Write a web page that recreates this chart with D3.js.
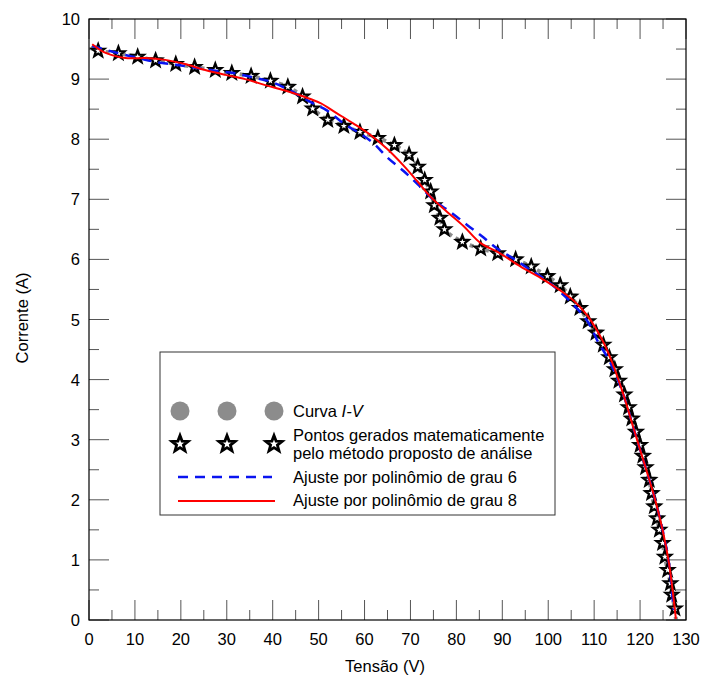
<!DOCTYPE html>
<html lang="pt">
<head>
<meta charset="utf-8">
<title>Curva I-V</title>
<script src="https://d3js.org/d3.v7.min.js"></script>
<style>
  body { margin: 0; background: #fff; }
  text { font-family: "Liberation Sans", Arial, sans-serif; font-size: 16.5px; fill: #000; }
</style>
</head>
<body>
<script>
// Pontos gerados (estrelas)
const starV = [2.0, 6.4, 10.6, 14.5, 18.9, 23.0, 27.5, 31.1, 35.3, 39.5, 43.3, 46.5, 48.7, 52.0, 55.5, 59.0, 62.9, 66.5, 69.7, 71.6,
  73.1, 74.4, 75.2, 76.4, 77.4, 81.3, 85.3, 89.0, 92.9, 96.3, 99.8, 102.6, 104.8, 106.9, 108.7, 110.4, 112.0, 113.3, 114.5, 115.4,
  116.6, 117.5, 118.2, 119.1, 120.0, 120.6, 121.2, 122.0, 122.5, 123.1, 123.7, 124.2, 124.9, 125.4, 126.0, 126.6, 126.9, 127.6];
const starI = [9.47, 9.43, 9.37, 9.31, 9.25, 9.20, 9.15, 9.10, 9.05, 8.97, 8.87, 8.71, 8.51, 8.32, 8.22, 8.12, 8.02, 7.90, 7.74, 7.54,
  7.32, 7.13, 6.90, 6.69, 6.50, 6.29, 6.18, 6.10, 6.00, 5.88, 5.72, 5.57, 5.38, 5.19, 4.97, 4.78, 4.58, 4.37, 4.17, 3.98,
  3.75, 3.54, 3.35, 3.13, 2.91, 2.73, 2.54, 2.33, 2.11, 1.89, 1.69, 1.50, 1.28, 1.05, 0.83, 0.61, 0.42, 0.19];

// Curva I-V (cinza pontilhada)
const ivV = [0.3, 2.0, 6.4, 10.6, 14.5, 18.9, 23.0, 27.5, 31.1, 35.3, 39.5, 43.3, 46.5, 48.7, 52.0, 55.5, 59.0, 62.9, 66.5, 69.7, 71.6,
  73.1, 74.4, 75.2, 76.4, 77.4, 81.3, 85.3, 89.0, 92.9, 96.3, 99.8, 102.6, 104.8, 106.9, 108.7, 110.4, 112.0, 113.3, 114.5, 115.4,
  116.6, 117.5, 118.2, 119.1, 120.0, 120.6, 121.2, 122.0, 122.5, 123.1, 123.7, 124.2, 124.9, 125.4, 126.0, 126.6, 126.9, 127.6, 127.8];
const ivI = [9.52, 9.47, 9.43, 9.37, 9.31, 9.25, 9.20, 9.15, 9.10, 9.05, 8.97, 8.87, 8.71, 8.51, 8.32, 8.22, 8.12, 8.02, 7.90, 7.74, 7.54,
  7.32, 7.13, 6.90, 6.69, 6.50, 6.29, 6.18, 6.10, 6.00, 5.88, 5.72, 5.57, 5.38, 5.19, 4.97, 4.78, 4.58, 4.37, 4.17, 3.98,
  3.75, 3.54, 3.35, 3.13, 2.91, 2.73, 2.54, 2.33, 2.11, 1.89, 1.69, 1.50, 1.28, 1.05, 0.83, 0.61, 0.42, 0.19, 0.0];

// Ajuste grau 6 (azul)
const blueV = [0.7, 6.4, 10.8, 14.8, 18.8, 23.1, 27.5, 31.5, 35.5, 39.5, 43.8, 48.2, 51.8, 55.5, 59.1, 62.0, 64.9, 68.5, 72.0, 75.5,
  78.7, 82.4, 85.5, 88.9, 92.5, 96.2, 99.8, 103.0, 106.3, 108.9, 110.7, 113.6, 116.5, 118.7, 120.9, 123.1, 124.9, 126.3, 127.3];
const blueI = [9.55, 9.43, 9.35, 9.28, 9.24, 9.19, 9.14, 9.10, 9.03, 8.96, 8.81, 8.62, 8.48, 8.26, 8.09, 7.93, 7.70, 7.47, 7.22, 6.96,
  6.79, 6.57, 6.39, 6.18, 6.01, 5.82, 5.64, 5.43, 5.18, 4.93, 4.65, 4.27, 3.72, 3.16, 2.61, 2.05, 1.50, 0.94, 0.17];

// Ajuste grau 8 (vermelho)
const redV = [0.7, 3.5, 7.9, 12.2, 16.6, 20.9, 25.3, 29.7, 34.0, 38.4, 42.7, 46.7, 50.4, 54.0, 57.6, 61.3, 64.9, 68.5, 71.5, 74.4,
  78.0, 81.6, 85.3, 89.3, 94.0, 98.4, 102.7, 105.6, 108.5, 110.7, 112.4, 114.0, 116.5, 118.7, 120.9, 123.1, 124.9, 126.3, 127.8];
const redI = [9.58, 9.44, 9.35, 9.35, 9.32, 9.25, 9.15, 9.07, 9.00, 8.90, 8.81, 8.71, 8.60, 8.43, 8.26, 8.07, 7.84, 7.56, 7.30, 7.04,
  6.79, 6.55, 6.27, 6.11, 5.88, 5.69, 5.48, 5.31, 5.07, 4.81, 4.56, 4.27, 3.72, 3.16, 2.61, 2.05, 1.50, 0.94, 0.02];

const xMajor = d3.range(0, 131, 10), xMinor = d3.range(5, 130, 10);
const yMajor = d3.range(0, 11, 1), yMinor = d3.range(0.5, 10, 1);

const W = 702, H = 687;
const pl = 89, pr = 686, pt = 19, pb = 620;

const svg = d3.select("body").append("svg").attr("width", W).attr("height", H);

const x = d3.scaleLinear().domain([0, 130]).range([pl, pr]);
const y = d3.scaleLinear().domain([0, 10]).range([pb, pt]);

const zip = (a, b) => a.map((v, i) => [v, b[i]]);
const line = d3.line().x(d => x(d[0])).y(d => y(d[1])).curve(d3.curveCatmullRom);

// star path
function starPath(R) {
  const r = R * 0.42, pts = [];
  for (let k = 0; k < 10; k++) {
    const a = -Math.PI / 2 + k * Math.PI / 5, rr = k % 2 ? r : R;
    pts.push([rr * Math.cos(a), rr * Math.sin(a)]);
  }
  return "M" + pts.map(p => p[0].toFixed(2) + "," + p[1].toFixed(2)).join("L") + "Z";
}

// ticks (inside, all four sides)
const tk = svg.append("g").attr("stroke", "#555").attr("stroke-width", 1);
const tickLines = (vals, len, horiz) => vals.forEach(v => {
  if (horiz) {
    tk.append("line").attr("x1", x(v)).attr("x2", x(v)).attr("y1", pb).attr("y2", pb - len);
    tk.append("line").attr("x1", x(v)).attr("x2", x(v)).attr("y1", pt).attr("y2", pt + len);
  } else {
    tk.append("line").attr("y1", y(v)).attr("y2", y(v)).attr("x1", pl).attr("x2", pl + len);
    tk.append("line").attr("y1", y(v)).attr("y2", y(v)).attr("x1", pr).attr("x2", pr - len);
  }
});
tickLines(xMajor, 20, true);
tickLines(xMinor, 10, true);
tickLines(yMajor, 20, false);
tickLines(yMinor, 10, false);

// tick labels
svg.append("g").selectAll("text").data(xMajor).join("text")
  .attr("x", d => x(d)).attr("y", 645).attr("text-anchor", "middle").text(d => d);
svg.append("g").selectAll("text").data(yMajor).join("text")
  .attr("x", 80).attr("y", d => y(d) + 6).attr("text-anchor", "end").text(d => d);

// axis titles
svg.append("text").attr("x", 385).attr("y", 672).attr("text-anchor", "middle").text("Tensão (V)");
svg.append("text").attr("transform", "translate(28,318) rotate(-90)").attr("text-anchor", "middle").text("Corrente (A)");

// series
svg.append("path").attr("d", line(zip(ivV, ivI))).attr("fill", "none")
  .attr("stroke", "#8c8c8c").attr("stroke-width", 4).attr("stroke-dasharray", "4,4");

svg.append("g").selectAll("path").data(zip(starV, starI)).join("path")
  .attr("d", starPath(6.5)).attr("transform", d => `translate(${x(d[0])},${y(d[1])})`)
  .attr("fill", "#fff").attr("stroke", "#000").attr("stroke-width", 2.3).attr("stroke-linejoin", "miter");

svg.append("path").attr("d", line(zip(blueV, blueI))).attr("fill", "none")
  .attr("stroke", "#0a14f0").attr("stroke-width", 2.5).attr("stroke-dasharray", "10,7");

svg.append("path").attr("d", line(zip(redV, redI))).attr("fill", "none")
  .attr("stroke", "#ff0000").attr("stroke-width", 2);

// frame
svg.append("rect").attr("x", pl).attr("y", pt).attr("width", pr - pl).attr("height", pb - pt)
  .attr("fill", "none").attr("stroke", "#000").attr("stroke-width", 1.2);

// legend
const lg = svg.append("g");
lg.append("rect").attr("x", 160).attr("y", 352).attr("width", 395).attr("height", 163)
  .attr("fill", "#fff").attr("stroke", "#333").attr("stroke-width", 1);
const mx = [180, 227, 274];
lg.selectAll("circle").data(mx).join("circle").attr("cx", d => d).attr("cy", 411).attr("r", 9.5).attr("fill", "#8c8c8c");
lg.selectAll("path.st").data(mx).join("path").attr("class", "st")
  .attr("d", starPath(8.5)).attr("transform", d => `translate(${d},444)`)
  .attr("fill", "#fff").attr("stroke", "#000").attr("stroke-width", 2.8);
lg.append("line").attr("x1", 178).attr("x2", 272).attr("y1", 477).attr("y2", 477)
  .attr("stroke", "#0a14f0").attr("stroke-width", 2.5).attr("stroke-dasharray", "10,7");
lg.append("line").attr("x1", 178).attr("x2", 275).attr("y1", 501).attr("y2", 501)
  .attr("stroke", "#ff0000").attr("stroke-width", 2);

const t1 = lg.append("text").attr("x", 293).attr("y", 417);
t1.append("tspan").text("Curva ");
t1.append("tspan").attr("font-style", "italic").text("I-V");
lg.append("text").attr("x", 293).attr("y", 441).text("Pontos gerados matematicamente");
lg.append("text").attr("x", 293).attr("y", 459).text("pelo método proposto de análise");
lg.append("text").attr("x", 293).attr("y", 483).text("Ajuste por polinômio de grau 6");
lg.append("text").attr("x", 293).attr("y", 506).text("Ajuste por polinômio de grau 8");
</script>
</body>
</html>
